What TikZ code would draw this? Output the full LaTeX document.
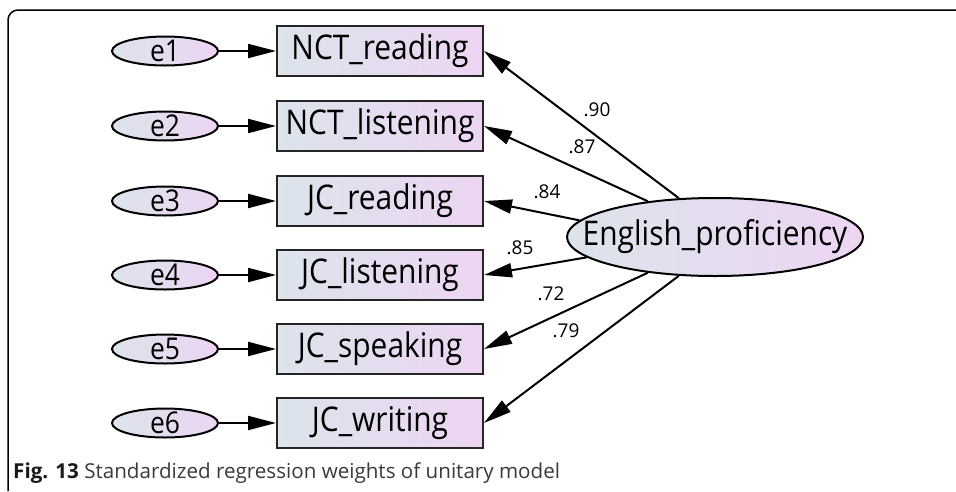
\documentclass[tikz,border=0pt]{standalone}
\usepackage{fontspec}
\setmainfont{Open Sans}
\newfontfamily\nodefont[FakeStretch=0.88]{Open Sans}
\usetikzlibrary{arrows.meta,shapes.geometric}
\definecolor{lc}{HTML}{DCE4EC}
\definecolor{rc}{HTML}{EDD5F2}
\definecolor{captxt}{HTML}{3A3A3A}
\begin{document}
\begin{tikzpicture}[x=1pt,y=-1pt,
  obs/.style={rectangle, draw=black!85, line width=2pt, minimum width=206pt, minimum height=50pt,
    inner sep=0pt, left color=lc, right color=rc, font=\nodefont\fontsize{34}{34}\selectfont},
  err/.style={ellipse, draw=black, line width=2pt, minimum width=106pt, minimum height=29pt,
    inner sep=0pt, left color=lc, right color=rc},
  lat/.style={ellipse, draw=black, line width=2pt, minimum width=296pt, minimum height=78pt,
    inner sep=0pt, left color=lc, right color=rc},
  lbl/.style={font=\nodefont\fontsize{34}{34}\selectfont, inner sep=0pt},
  elbl/.style={font=\nodefont\fontsize{30}{30}\selectfont, inner sep=0pt},
  arr/.style={-{Triangle[length=28pt,width=14pt]}, line width=2pt},
  wt/.style={font=\fontsize{19}{19}\selectfont, inner sep=0pt}
]
\useasboundingbox (0,0) rectangle (956,491);
\fill[white] (0,0) rectangle (956,491);
\draw[line width=1.5pt, rounded corners=10pt] (8,491) -- (8,10) -- (956,10);

\foreach \i/\y/\t in {1/51/NCT\_reading, 2/126/NCT\_listening, 3/201/JC\_reading,
                     4/275/JC\_listening, 5/349/JC\_speaking, 6/423/JC\_writing} {
  \node[err, label={[elbl]center:e\i}] (e\i) at (165,\y) {};
  \node[obs] (o\i) at (380,\y) {\t};
  \draw[arr] (e\i) -- (o\i);
}

\node[lat, label={[lbl]center:English\_proficiency}] (ep) at (715,237) {};

\draw[arr] (ep.133) -- (o1.east);
\draw[arr] (ep.152) -- (o2.east);
\draw[arr] (ep.173) -- (o3.east);
\draw[arr] (ep.189) -- (o4.east);
\draw[arr] (ep.208) -- (o5.east);
\draw[arr] (ep.227) -- (o6.east);

\node[wt] (w1) at (597,110) {.90};
\node[wt] (w2) at (582,147) {.87};
\node[wt] (w3) at (547,192) {.84};
\node[wt] (w4) at (520,248) {.85};
\node[wt] (w5) at (551,294) {.72};
\node[wt] (w6) at (566,331) {.79};

\node[anchor=base west, inner sep=0pt, font=\fontsize{20.6}{20.6}\selectfont, text=captxt] (cap) at (13,478)
  {\textcolor{black!90}{\textbf{Fig. 13}} Standardized regression weights of unitary model};
\end{tikzpicture}
\end{document}
